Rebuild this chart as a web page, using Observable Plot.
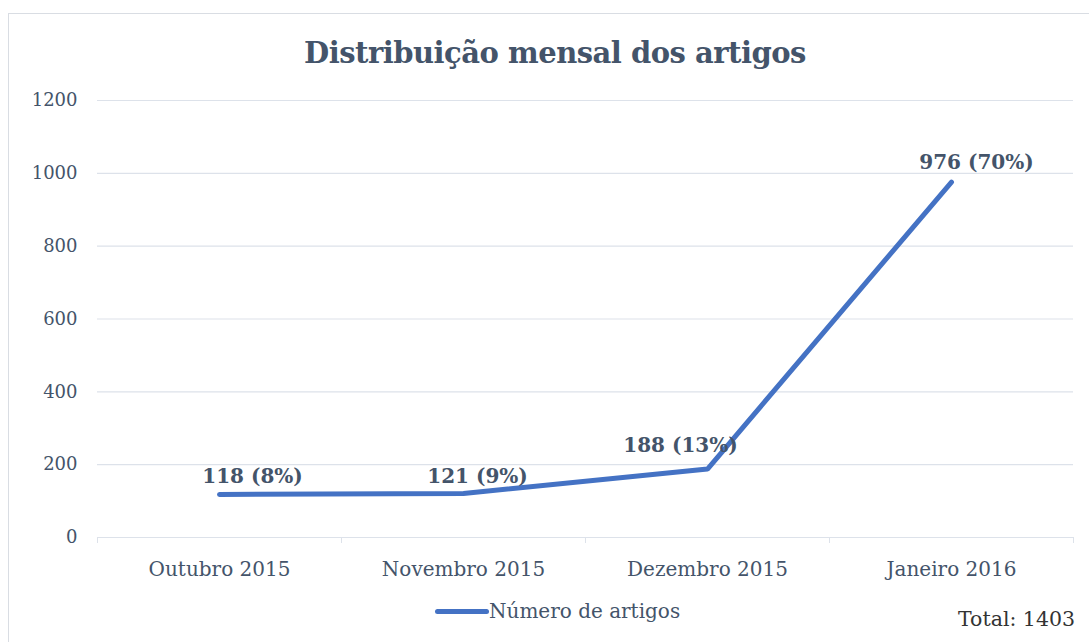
<!DOCTYPE html>
<html>
<head>
<meta charset="utf-8">
<script src="https://cdn.jsdelivr.net/npm/d3@7"></script>
<script src="https://cdn.jsdelivr.net/npm/@observablehq/plot@0.6"></script>
<style>
  html, body { margin: 0; padding: 0; background: #fff; }
  #wrap { position: relative; width: 1089px; height: 642px; overflow: hidden; font-family: "DejaVu Serif", serif; color: #44546A; }
  #frame { position: absolute; left: 8px; top: 13px; width: 1100px; height: 660px; border: 1px solid #d9dde3; box-sizing: border-box; }
  #title { position: absolute; left: 0; width: 1110px; top: 36px; text-align: center; font-weight: bold; font-size: 29px; letter-spacing: -0.5px; }
  #chart { position: absolute; left: 0; top: 0; }
  #legend { position: absolute; left: 435px; top: 599px; display: flex; align-items: center; font-size: 20px; }
  #legend .sw { width: 54px; height: 5px; background: #4472C4; border-radius: 3px; }
  #total { position: absolute; left: 958px; top: 607px; font-size: 20.5px; color: #333; }
</style>
</head>
<body>
<div id="wrap">
  <div id="frame"></div>
  <div id="chart"></div>
  <div id="title">Distribuição mensal dos artigos</div>
  <div id="legend"><div class="sw"></div><span>Número de artigos</span></div>
  <div id="total">Total: 1403</div>
</div>
<script>
const months = ["Outubro 2015", "Novembro 2015", "Dezembro 2015", "Janeiro 2016"];
const counts = [118, 121, 188, 976];
const shares = ["8%", "9%", "13%", "70%"];
const yTicks = [0, 200, 400, 600, 800, 1000, 1200];

const data = months.map((m, i) => ({month: m, value: counts[i], label: `${counts[i]} (${shares[i]})`}));

const textColor = "#44546A";
const labelOffsets = [33, 14, -27, 25];
const labelLift = [-18, -17, -23, -19];

const labelMarks = data.map((d, i) => Plot.text([d], {
  x: "month", y: "value", text: "label",
  dx: labelOffsets[i], dy: labelLift[i],
  fontWeight: "bold", fontSize: 20, fill: textColor
}));

const chart = Plot.plot({
  width: 1089,
  height: 590,
  marginLeft: 97,
  marginRight: 16,
  marginTop: 100,
  marginBottom: 53,
  style: {fontFamily: "DejaVu Serif, serif", color: textColor, background: "transparent"},
  x: {type: "band", domain: months, padding: 0, label: null},
  y: {domain: [0, 1200], label: null},
  marks: [
    Plot.gridY(yTicks, {stroke: "#dde2ea", strokeOpacity: 1, strokeWidth: 1.2}),
    Plot.axisY(yTicks, {tickSize: 0, tickPadding: 20, fontSize: 18, fill: textColor, tickFormat: d => String(d)}),
    Plot.axisX({tickSize: 0, tickPadding: 24, fontSize: 20, fill: textColor}),
    Plot.axisX(months, {text: null, tickSize: 6, dx: -122, stroke: "#dde2ea"}),
    Plot.axisX([months[months.length - 1]], {text: null, tickSize: 6, dx: 122, stroke: "#dde2ea"}),
    Plot.line(data, {x: "month", y: "value", stroke: "#4472C4", strokeWidth: 5, strokeLinecap: "round", strokeLinejoin: "miter"}),
    ...labelMarks
  ]
});
document.getElementById("chart").appendChild(chart);
</script>
</body>
</html>
